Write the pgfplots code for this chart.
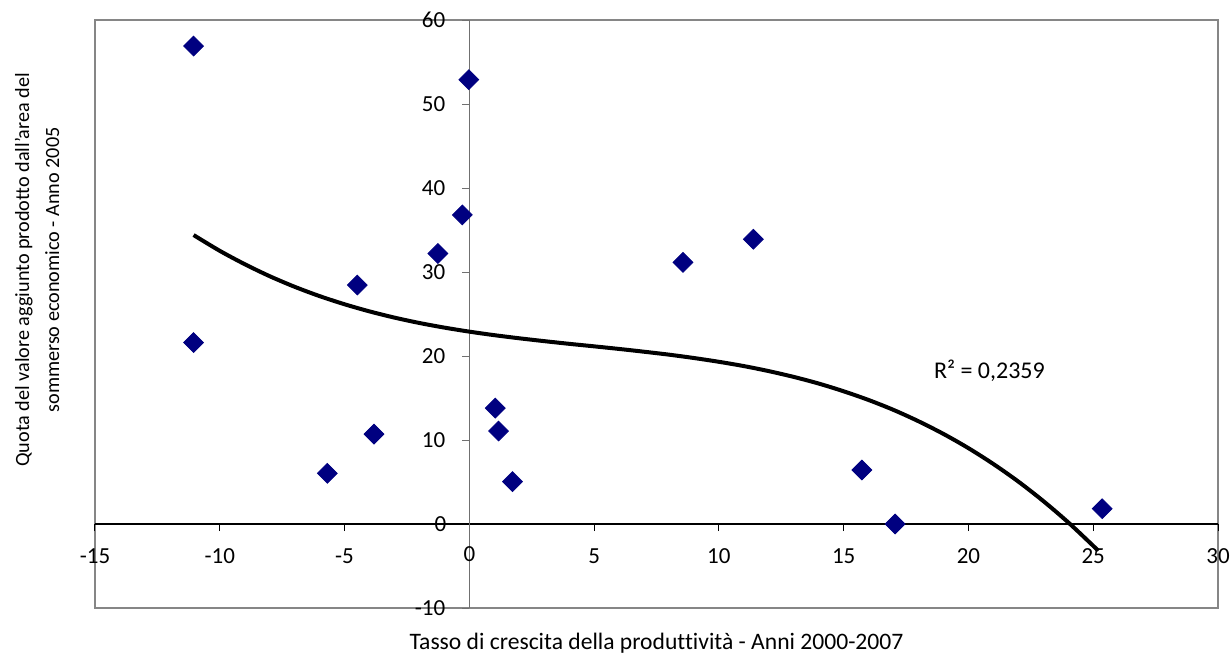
\documentclass[border=0pt]{standalone}
\usepackage{fontspec}
\setmainfont{Carlito}[Ligatures={NoCommon}]
\usepackage{pgfplots}
\pgfplotsset{compat=1.18}
\usetikzlibrary{calc}
\definecolor{navy}{HTML}{000080}
\definecolor{framegray}{HTML}{868686}
\definecolor{axgray}{HTML}{707070}
\begin{document}
\fontsize{11.5}{13}\selectfont
\begin{tikzpicture}
\begin{axis}[
  scale only axis, width=561.5pt, height=294pt,
  xmin=-15, xmax=30, ymin=-10, ymax=60,
  axis lines=middle,
  axis background/.style={draw=framegray, line width=1.1pt},
  x axis line style={black, line width=0.6pt, -},
  y axis line style={axgray, line width=0.6pt, -},
  xtick={-15,-10,...,30}, ytick={-10,0,...,60},
  tick align=outside,
  major tick length=3.5pt,
  xtick style={black, line width=0.5pt},
  ytick style={axgray, line width=0.5pt},
  /pgf/number format/assume math mode=true,
  ticklabel style={font=\fontsize{11.5}{13}\selectfont},
  xticklabel style={yshift=-5pt},
  yticklabel style={xshift=-4.5pt},
  clip=false,
]
\addplot[only marks, mark=square*, mark size=3.5pt, mark options={rotate=45, fill=navy, draw=navy}] coordinates {
(-11.05,56.9) (-0.02,52.9) (-0.28,36.8) (-1.26,32.2) (-4.49,28.45)
(-11.05,21.6) (-5.69,6.03) (-3.82,10.7) (1.04,13.8) (1.17,11.07)
(1.73,5.04) (8.56,31.15) (11.38,33.9) (15.73,6.43) (17.06,0.0) (25.36,1.82)
};
\addplot[black, line width=2pt, smooth] coordinates {
(-11.05,34.40) (-10,32.52) (-9,30.93) (-8,29.50) (-7,28.24) (-6,27.13) (-5,26.16)
(-4,25.31) (-3,24.57) (-2,23.93) (-1,23.38) (0,22.90) (1,22.48) (2,22.11) (3,21.77)
(4,21.45) (5,21.15) (6,20.84) (7,20.51) (8,20.16) (9,19.76) (10,19.31) (11,18.80)
(12,18.20) (13,17.51) (14,16.72) (15,15.80) (16,14.76) (17,13.58) (18,12.23)
(19,10.72) (20,9.03) (21,7.14) (22,5.05) (23,2.73) (24,0.19) (25,-2.60) (25.2,-3.19)
};
\node at (axis cs:20.84,18.2) {\fontsize{12}{14}\selectfont R² = 0,2359};
\node at (axis cs:0,-3.6) {0};
\node[anchor=east] at (axis cs:-0.6,0) {0};
\node at (rel axis cs:0.5,-0.06) {\fontsize{11.8}{14}\selectfont Tasso di crescita della produttività - Anni 2000-2007};
\node[rotate=90, align=center, font=\fontsize{10.1}{15}\selectfont] at (rel axis cs:-0.0516,0.575) {Quota del valore aggiunto prodotto dall'area del\\sommerso economico - Anno 2005};
\coordinate (bl) at (rel axis cs:0,0);
\coordinate (tr) at (rel axis cs:1,1);
\end{axis}
\pgfresetboundingbox
\path ($(bl)+(-47.5pt,-23pt)$) rectangle ($(tr)+(7pt,10pt)$);
\end{tikzpicture}
\end{document}
